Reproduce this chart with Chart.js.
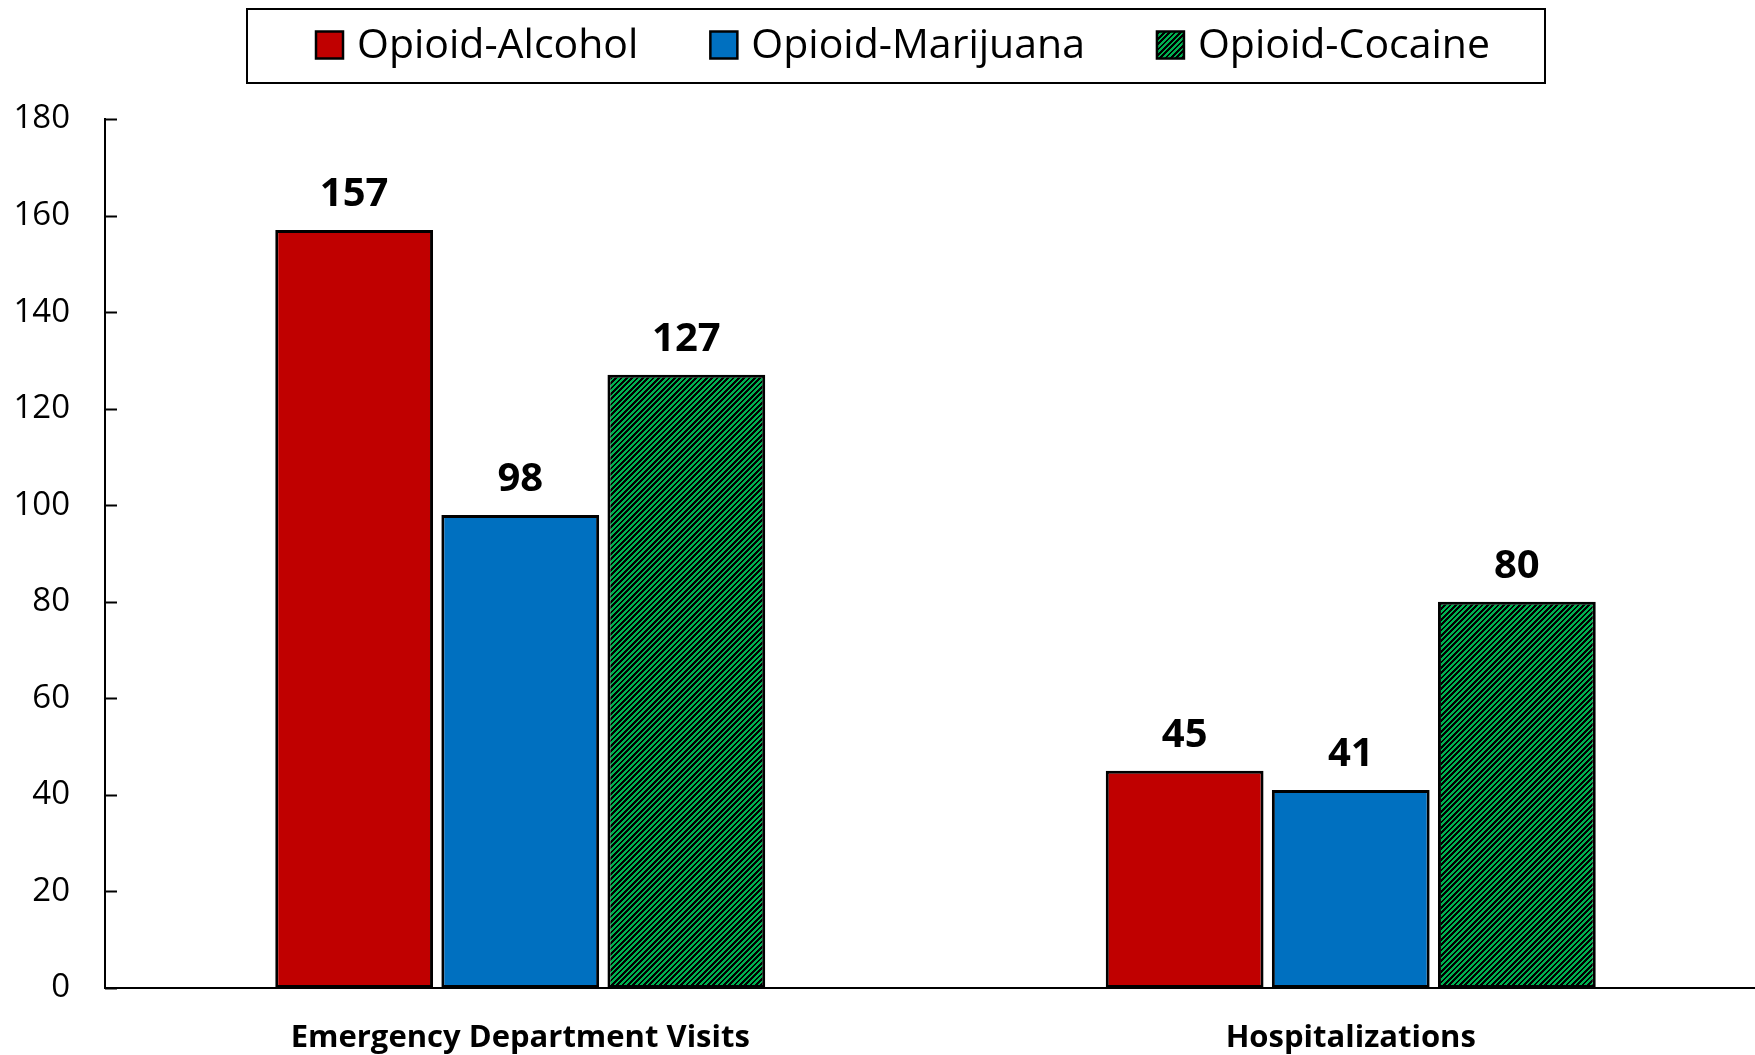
<!DOCTYPE html>
<html>
<head>
<meta charset="utf-8">
<script src="https://cdn.jsdelivr.net/npm/chart.js@4.4.0/dist/chart.umd.min.js"></script>
<style>
  html, body { margin: 0; padding: 0; background: #fff; overflow: hidden; }
  canvas { display: block; }
</style>
</head>
<body>
<canvas id="chart" width="1766" height="1055"></canvas>
<script>
// --- Data ---
const categories = ['Emergency Department Visits', 'Hospitalizations'];
const seriesNames = ['Opioid-Alcohol', 'Opioid-Marijuana', 'Opioid-Cocaine'];
const alcoholValues = [157, 45];
const marijuanaValues = [98, 41];
const cocaineValues = [127, 80];
const yTicks = [0, 20, 40, 60, 80, 100, 120, 140, 160, 180];

const FONT = '"Open Sans", "Liberation Sans", sans-serif';
const canvas = document.getElementById('chart');
const ctx = canvas.getContext('2d');

// green fill with black upward diagonal stripes
const makeHatch = () => {
    const size = 16;
    const tile = document.createElement('canvas');
    tile.width = tile.height = size;
    const t = tile.getContext('2d');
    t.fillStyle = '#00B050';
    t.fillRect(0, 0, size, size);
    t.fillStyle = '#000';
    for (let y = 0; y < size; y++) {
        for (let x = 0; x < size; x++) {
            if (((x + y) * 3) % 16 < 8) t.fillRect(x, y, 1, 1);
        }
    }
    return ctx.createPattern(tile, 'repeat');
};

// --- Plugins ---
// short tick marks on the inner side of the y axis
const innerTicks = {
    id: 'innerTicks',
    afterDraw(chart) {
        const y = chart.scales.y;
        const c = chart.ctx;
        c.save();
        c.strokeStyle = '#000';
        c.lineWidth = 2;
        y.ticks.forEach(tk => {
            const py = Math.round(y.getPixelForValue(tk.value)) + 0.5;
            c.beginPath();
            c.moveTo(chart.chartArea.left, py);
            c.lineTo(chart.chartArea.left + 12, py);
            c.stroke();
        });
        c.restore();
    }
};

// bold value above each bar
const valueLabels = {
    id: 'valueLabels',
    afterDatasetsDraw(chart) {
        const c = chart.ctx;
        c.save();
        c.font = 'bold 40px ' + FONT;
        c.fillStyle = '#000';
        c.textAlign = 'center';
        c.textBaseline = 'alphabetic';
        chart.data.datasets.forEach((ds, di) => {
            chart.getDatasetMeta(di).data.forEach((bar, i) => {
                c.fillText(String(ds.data[i]), bar.x, bar.y - 24);
            });
        });
        c.restore();
    }
};

// framed legend row across the top
const legendBox = {
    id: 'legendBox',
    afterDraw(chart) {
        const c = chart.ctx;
        const mark = 27, textGap = 14, itemGap = 72;
        const centerX = 903, centerY = 45;
        c.save();
        c.font = '41px ' + FONT;
        const widths = chart.data.datasets.map(ds => c.measureText(ds.label).width);
        const total = widths.reduce((s, w) => s + mark + textGap + w, 0) + itemGap * (widths.length - 1);
        let x = centerX - total / 2;

        c.strokeStyle = '#000';
        c.lineWidth = 2;
        c.strokeRect(x - 69, 9, total + 69 + 55, 74);

        c.textBaseline = 'middle';
        c.textAlign = 'left';
        chart.data.datasets.forEach((ds, i) => {
            c.fillStyle = ds.backgroundColor;
            c.fillRect(x, centerY - mark / 2, mark, mark);
            c.lineWidth = 2.5;
            c.strokeStyle = '#000';
            c.strokeRect(x, centerY - mark / 2, mark, mark);
            c.fillStyle = '#000';
            c.fillText(ds.label, x + mark + textGap, centerY + 1);
            x += mark + textGap + widths[i] + itemGap;
        });
        c.restore();
    }
};

// --- Chart ---
new Chart(ctx, {
    type: 'bar',
    data: {
        labels: categories,
        datasets: [
            { label: seriesNames[0], data: alcoholValues, backgroundColor: '#C00000' },
            { label: seriesNames[1], data: marijuanaValues, backgroundColor: '#0070C0' },
            { label: seriesNames[2], data: cocaineValues, backgroundColor: makeHatch() }
        ].map(ds => Object.assign(ds, {
            borderColor: '#000',
            borderWidth: 3,
            borderSkipped: false,
            categoryPercentage: 0.6,
            barPercentage: 0.95
        }))
    },
    options: {
        responsive: false,
        animation: false,
        devicePixelRatio: 1,
        layout: { padding: { left: 13, top: 119, right: 0, bottom: 1 } },
        plugins: {
            legend: { display: false },
            tooltip: { enabled: false }
        },
        scales: {
            x: {
                grid: { display: false, drawTicks: false },
                border: { color: '#000', width: 2 },
                ticks: {
                    color: '#000',
                    padding: 32,
                    font: { family: FONT, size: 31, weight: 'bold' }
                },
                afterFit: scale => { scale.height = 66; }
            },
            y: {
                min: 0,
                max: 180,
                afterBuildTicks: axis => { axis.ticks = yTicks.map(v => ({ value: v })); },
                grid: { display: false, drawTicks: false },
                border: { color: '#000', width: 2 },
                ticks: {
                    color: '#000',
                    padding: 35,
                    font: { family: FONT, size: 33 }
                },
                afterFit: scale => { scale.width = 92; }
            }
        }
    },
    plugins: [innerTicks, valueLabels, legendBox]
});
</script>
</body>
</html>
